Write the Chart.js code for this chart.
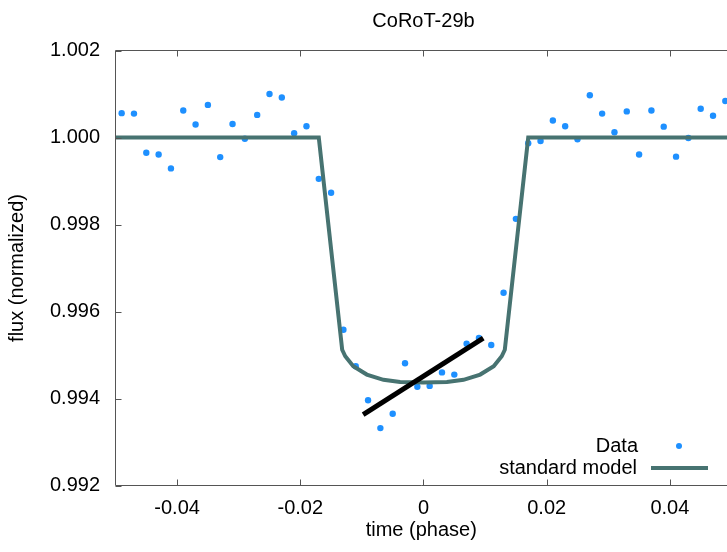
<!DOCTYPE html>
<html><head><meta charset="utf-8">
<script src="https://cdn.jsdelivr.net/npm/chart.js@4/dist/chart.umd.min.js"></script>
<style>html,body{margin:0;padding:0;background:#fff;overflow:hidden}</style>
</head><body><canvas id="c" width="727" height="552"></canvas>
<script>
const phase = [-0.049,-0.047,-0.045,-0.043,-0.041,-0.039,-0.037,-0.035,-0.033,-0.031,
  -0.029,-0.027,-0.025,-0.023,-0.021,-0.019,-0.017,-0.015,-0.013,-0.011,
  -0.009,-0.007,-0.005,-0.003,-0.001,0.001,0.003,0.005,0.007,0.009,
  0.011,0.013,0.015,0.017,0.019,0.021,0.023,0.025,0.027,0.029,
  0.031,0.033,0.035,0.037,0.039,0.041,0.043,0.045,0.047,0.049];
const flux = [1.00056,1.00055,0.99965,0.99961,0.99929,1.00062,1.00030,1.00075,0.99955,1.00031,
  0.99997,1.00052,1.00100,1.00092,1.00010,1.00026,0.99905,0.99873,0.99558,0.99474,
  0.99396,0.99332,0.99365,0.99481,0.99427,0.99429,0.99460,0.99455,0.99526,0.99539,
  0.99523,0.99643,0.99813,0.99987,0.99992,1.00039,1.00026,0.99996,1.00097,1.00055,
  1.00012,1.00060,0.99961,1.00062,1.00025,0.99956,0.99999,1.00066,1.00050,1.00084];
const modelPhase = [-0.05,-0.0170,-0.0132,-0.0127,-0.0114,-0.0092,-0.0065,-0.0038,0,0.0038,0.0065,0.0092,0.0114,0.0127,0.0132,0.0170,0.05];
const modelFlux = [1.0,1.0,0.99512,0.99497,0.99474,0.99455,0.99443,0.99438,0.99437,0.99438,0.99443,0.99455,0.99474,0.99497,0.99512,1.0,1.0];
const trendPhase = [-0.0098, 0.0097];
const trendFlux = [0.99363, 0.99539];
const xTickValues = [-0.04,-0.02,0,0.02,0.04];
const xTickLabels = ['-0.04','-0.02','0','0.02','0.04'];
const yTickValues = [0.992,0.994,0.996,0.998,1.000,1.002];
const yTickLabels = ['0.992','0.994','0.996','0.998','1.000','1.002'];
const titleText = 'CoRoT-29b';
const xTitle = 'time (phase)';
const yTitle = 'flux (normalized)';
const legendLabels = ['Data','standard model'];

const FONT = "'Liberation Sans', Arial, sans-serif";
const pts = (xs, ys) => xs.map((x, i) => ({x: x, y: ys[i]}));

const decor = {
  id: 'decor',
  afterDraw(chart) {
    const ctx = chart.ctx, a = chart.chartArea;
    const xs = chart.scales.x, ys = chart.scales.y;
    ctx.save();
    ctx.strokeStyle = '#555'; ctx.lineWidth = 1;
    ctx.beginPath();
    ctx.moveTo(a.left, a.top); ctx.lineTo(a.left, a.bottom); ctx.lineTo(a.right, a.bottom);
    ctx.moveTo(a.left, a.top); ctx.lineTo(a.right, a.top);
    xTickValues.forEach(v => {
      const p = Math.round(xs.getPixelForValue(v)) + 0.5;
      ctx.moveTo(p, a.bottom); ctx.lineTo(p, a.bottom - 6);
      ctx.moveTo(p, a.top); ctx.lineTo(p, a.top + 6);
    });
    yTickValues.forEach(v => {
      const p = Math.round(ys.getPixelForValue(v)) + 0.5;
      ctx.moveTo(a.left, p); ctx.lineTo(a.left + 6, p);
    });
    ctx.stroke();
    ctx.fillStyle = '#000';
    ctx.font = '20px ' + FONT;
    ctx.textAlign = 'center'; ctx.textBaseline = 'middle';
    const cx = (a.left + xs.getPixelForValue(0.05)) / 2;
    ctx.fillText(titleText, cx, 21);
    ctx.textAlign = 'right';
    const y1 = a.bottom - 39.5, y2 = a.bottom - 17.5;
    ctx.fillText(legendLabels[0], a.right - 89, y1);
    ctx.fillText(legendLabels[1], a.right - 90, y2);
    ctx.fillStyle = '#1e90ff';
    ctx.beginPath(); ctx.arc(a.right - 48, y1, 3, 0, Math.PI * 2); ctx.fill();
    ctx.strokeStyle = '#477371'; ctx.lineWidth = 4;
    ctx.beginPath(); ctx.moveTo(a.right - 76, y2); ctx.lineTo(a.right - 19, y2); ctx.stroke();
    ctx.restore();
  }
};

new Chart(document.getElementById('c'), {
  type: 'scatter',
  data: {
    datasets: [
      {label: 'trend', type: 'line', data: pts(trendPhase, trendFlux), borderColor: '#000', borderWidth: 5, pointRadius: 0, showLine: true, fill: false, order: 0},
      {label: legendLabels[1], type: 'line', data: pts(modelPhase, modelFlux), borderColor: '#477371', borderWidth: 4, pointRadius: 0, showLine: true, fill: false, tension: 0, order: 1},
      {label: legendLabels[0], data: pts(phase, flux), backgroundColor: '#1e90ff', borderWidth: 0, pointRadius: 3.2, order: 2}
    ]
  },
  options: {
    responsive: false,
    animation: false,
    devicePixelRatio: 1,
    layout: {autoPadding: false, padding: {top: 50.5, left: 0, right: 0, bottom: 0}},
    plugins: {legend: {display: false}, tooltip: {enabled: false}, title: {display: false}},
    scales: {
      x: {
        type: 'linear', min: -0.05, max: 0.04927,
        afterBuildTicks: s => { s.ticks = xTickValues.map(v => ({value: v})); },
        afterFit: s => { s.height = 66.5; s.paddingLeft = 0; s.paddingRight = 0; },
        grid: {display: false, drawTicks: false},
        border: {display: false},
        ticks: {callback: (v, i) => xTickLabels[i], color: '#000', font: {family: FONT, size: 20}, padding: 11, maxRotation: 0, autoSkip: false},
        title: {display: true, text: xTitle, color: '#000', font: {family: FONT, size: 20}, padding: {top: 0, bottom: 10}}
      },
      y: {
        type: 'linear', min: 0.992, max: 1.002,
        afterBuildTicks: s => { s.ticks = yTickValues.map(v => ({value: v})); },
        afterFit: s => { s.width = 115.5; },
        grid: {display: false, drawTicks: false},
        border: {display: false},
        ticks: {callback: (v, i) => yTickLabels[i], color: '#000', font: {family: FONT, size: 20}, padding: 15.5, autoSkip: false},
        title: {display: true, text: yTitle, color: '#000', font: {family: FONT, size: 20}, padding: {top: 5, bottom: 0}}
      }
    }
  },
  plugins: [decor]
});
</script>
</body></html>
